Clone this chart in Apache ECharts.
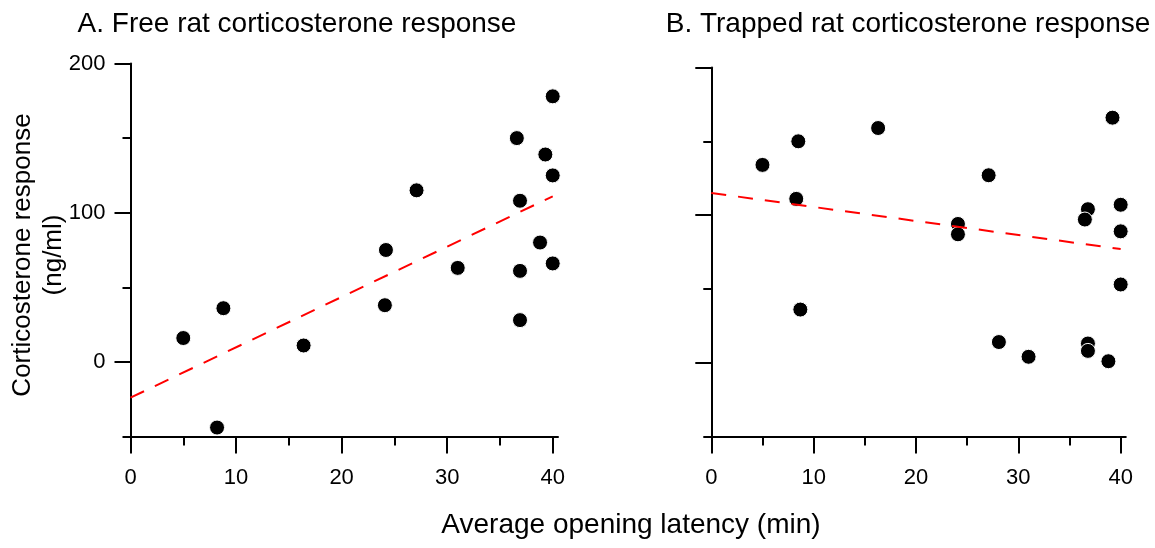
<!DOCTYPE html>
<html>
<head>
<meta charset="utf-8">
<script src="https://cdn.jsdelivr.net/npm/echarts@6/dist/echarts.min.js"></script>
<style>
html,body{margin:0;padding:0;background:#fff;}
#chart{width:1155px;height:548px;}
</style>
</head>
<body>
<div id="chart"></div>
<script>
// ---- data ----
const titleA = 'A. Free rat corticosterone response';
const titleB = 'B. Trapped rat corticosterone response';
const yAxisTitle = 'Corticosterone response\n(ng/ml)';
const xAxisTitle = 'Average opening latency (min)';

const freeX = [5.0, 8.8, 8.2, 16.4, 24.2, 24.1, 27.1, 31.0, 36.6, 36.9, 36.9, 36.9, 39.3, 38.8, 40.0, 40.0, 40.0];
const freeY = [16, 36, -44, 11, 75, 38, 115, 63, 150, 108, 61, 28, 139, 80, 178, 125, 66];

const trappedX = [5.0, 8.5, 8.3, 8.7, 16.3, 24.1, 24.1, 27.1, 28.1, 31.0, 36.8, 36.5, 36.8, 36.8, 38.8, 39.2, 40.0, 40.0, 40.0];
const trappedY = [134, 150, 111, 36, 159, 94, 87, 127, 14, 4, 104, 97, 13, 8, 1, 166, 107, 89, 53];

const fitAX = [0, 40];
const fitAY = [-24, 111];
const fitBX = [0, 40];
const fitBY = [115, 77];

const xMajorTicks = [0, 10, 20, 30, 40];
const xMinorTicks = [5, 15, 25, 35];
const yMajorTicks = [0, 100, 200];
const yMinorTicks = [-50, 50, 150];

// ---- chart ----
const FONT = '"Liberation Sans", Arial, sans-serif';
const black = '#000';
const chart = echarts.init(document.getElementById('chart'), null, {renderer: 'canvas'});

function pairs(xs, ys) { return xs.map((x, i) => [x, ys[i]]); }

function xAxes(gridIndex) {
  return [
    {
      gridIndex, type: 'value', min: 0, max: 40.5, position: 'bottom',
      axisLine: {show: true, onZero: false, lineStyle: {color: black, width: 2}},
      axisTick: {show: true, customValues: xMajorTicks, length: 17, lineStyle: {color: black, width: 2}},
      axisLabel: {show: true, customValues: xMajorTicks, margin: 30, color: black, fontSize: 22, fontFamily: FONT},
      splitLine: {show: false}
    },
    {
      gridIndex, type: 'value', min: 0, max: 40.5, position: 'bottom',
      axisLine: {show: false, onZero: false},
      axisTick: {show: true, customValues: xMinorTicks, length: 9, lineStyle: {color: black, width: 2}},
      axisLabel: {show: false},
      splitLine: {show: false}
    }
  ];
}
function yAxes(gridIndex, labels) {
  return [
    {
      gridIndex, type: 'value', min: -50, max: 200, position: 'left',
      axisLine: {show: true, onZero: false, lineStyle: {color: black, width: 2}},
      axisTick: {show: true, customValues: yMajorTicks, length: 16, lineStyle: {color: black, width: 2}},
      axisLabel: {show: labels, customValues: yMajorTicks, margin: 25, color: black, fontSize: 22, fontFamily: FONT},
      splitLine: {show: false}
    },
    {
      gridIndex, type: 'value', min: -50, max: 200, position: 'left',
      axisLine: {show: false, onZero: false},
      axisTick: {show: true, customValues: yMinorTicks, length: 8, lineStyle: {color: black, width: 2}},
      axisLabel: {show: false},
      splitLine: {show: false}
    }
  ];
}

const scatterStyle = {color: black, opacity: 1, borderColor: '#fff', borderWidth: 1};
const fitStyle = {color: '#ff0000', width: 2, type: [15, 12]};

chart.setOption({
  animation: false,
  backgroundColor: '#fff',
  grid: [
    {left: 130.5, top: 63.5, width: 427.5, height: 373, containLabel: false},
    {left: 711.3, top: 67.5, width: 414.5, height: 369, containLabel: false}
  ],
  xAxis: [...xAxes(0), ...xAxes(1)],
  yAxis: [...yAxes(0, true), ...yAxes(1, false)],
  series: [
    {type: 'scatter', xAxisIndex: 0, yAxisIndex: 0, data: pairs(freeX, freeY), symbol: 'circle', symbolSize: 15, itemStyle: scatterStyle, z: 3},
    {type: 'line', xAxisIndex: 0, yAxisIndex: 0, data: pairs(fitAX, fitAY), showSymbol: false, symbol: 'none', lineStyle: fitStyle, z: 4},
    {type: 'scatter', xAxisIndex: 2, yAxisIndex: 2, data: pairs(trappedX, trappedY), symbol: 'circle', symbolSize: 15, itemStyle: scatterStyle, z: 3},
    {type: 'line', xAxisIndex: 2, yAxisIndex: 2, data: pairs(fitBX, fitBY), showSymbol: false, symbol: 'none', lineStyle: fitStyle, z: 4}
  ],
  graphic: [
    {type: 'text', x: 297, y: 24, style: {text: titleA, fill: black, font: '28px ' + FONT, align: 'center', verticalAlign: 'middle'}},
    {type: 'text', x: 908, y: 24, style: {text: titleB, fill: black, font: '28px ' + FONT, align: 'center', verticalAlign: 'middle'}},
    {type: 'text', x: 38, y: 255, rotation: Math.PI / 2, style: {text: yAxisTitle, fill: black, font: '26px ' + FONT, lineHeight: 31, align: 'center', verticalAlign: 'middle'}},
    {type: 'text', x: 631, y: 525, style: {text: xAxisTitle, fill: black, font: '28px ' + FONT, align: 'center', verticalAlign: 'middle'}}
  ]
});
</script>
</body>
</html>
